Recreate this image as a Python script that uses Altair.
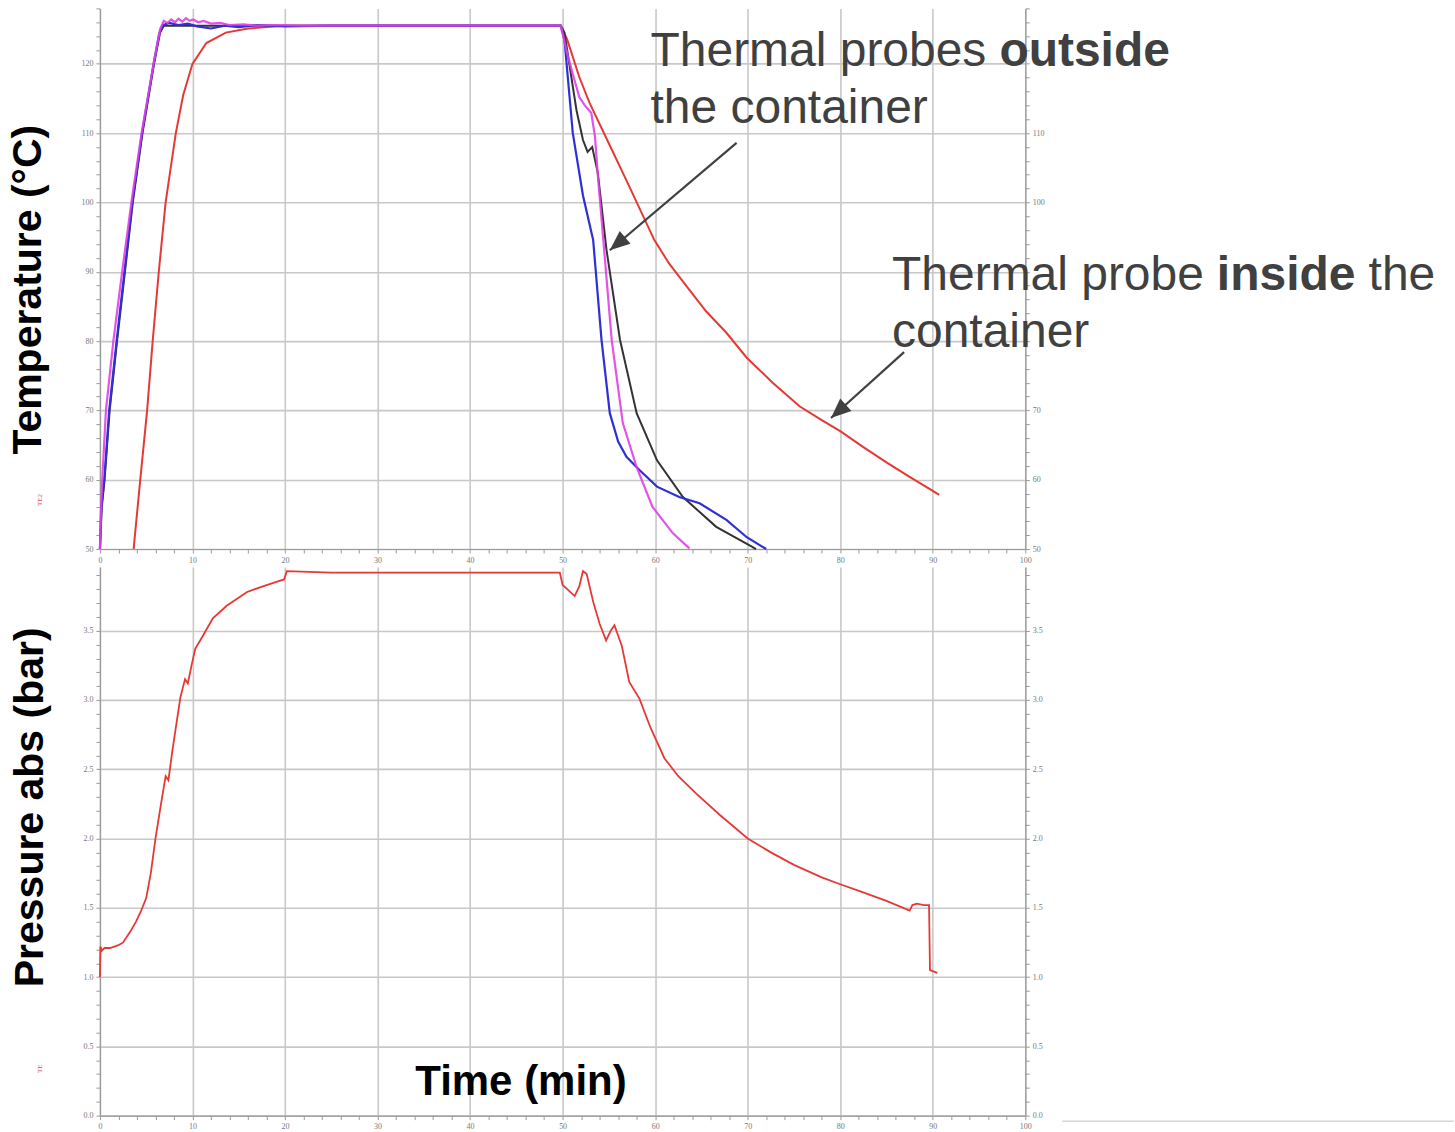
import altair as alt
import pandas as pd

# ---------------- data ----------------
x_ticks = list(range(0, 101, 2))
temp_ticks = list(range(50, 129, 2))
pres_ticks = [round(i * 0.1, 1) for i in range(0, 40)]
# right-hand temperature labels that are hidden behind the annotation text in the original
temp_right_hidden = [80, 90, 120]

red_t = [3.64, 4.36, 5.1, 5.7, 6.36, 7.1, 8.2, 9.0, 10.0, 11.5, 13.6, 16, 18, 20, 25, 30, 35, 40, 45, 49.8,
         50.5, 51.8, 52.9, 55, 57, 59.9, 61.5, 63.7, 65.5, 67.7, 69.9, 72.7, 75.6, 78, 80, 82.5, 85, 87.5, 90, 90.7]
red_T = [50, 60, 70, 80, 90, 100, 110, 115.5, 120, 123, 124.5, 125.1, 125.3, 125.5, 125.5, 125.5, 125.5, 125.5, 125.5, 125.5,
         123.5, 118.1, 114.4, 108.5, 102.9, 94.6, 91.2, 87.4, 84.3, 81.2, 77.6, 74.0, 70.6, 68.6, 67.0, 64.7, 62.5, 60.4, 58.4, 57.8]

black_t = [0, 0.2, 0.5, 1.05, 1.85, 2.7, 3.55, 4.6, 5.85, 6.5, 6.9, 8, 10, 15, 20, 30, 40, 49.8,
           50.2, 51.5, 52.2, 52.7, 53.2, 53.8, 54.75, 56.2, 58.0, 60.2, 63.0, 66.6, 70.5, 70.9]
black_T = [50, 56, 60, 70, 80, 90, 100, 110, 120, 124.5, 125.5, 125.5, 125.5, 125.5, 125.5, 125.5, 125.5, 125.5,
           124.5, 113.3, 109, 107.3, 108, 104.3, 93.1, 80.2, 69.6, 62.8, 57.5, 53.2, 50.3, 50.0]

blue_t = [0, 0.15, 0.47, 1.0, 1.8, 2.65, 3.5, 4.55, 5.8, 6.4, 6.8, 7.5, 8.5, 9.5, 10.5, 12, 13.5, 15, 17, 20, 25, 30, 35, 40, 45, 49.8,
          50.2, 51.1, 52.2, 53.3, 54.2, 55.1, 56.0, 56.9, 58.3, 60.2, 62.6, 64.8, 67.7, 69.9, 72.0]
blue_T = [50, 56, 60, 70, 80, 90, 100, 110, 120, 124.3, 125.6, 125.9, 125.6, 125.8, 125.4, 125.1, 125.5, 125.3, 125.6, 125.4, 125.5, 125.5, 125.5, 125.5, 125.5, 125.5,
          123.5, 110, 101, 94.6, 80.2, 69.6, 65.5, 63.3, 61.4, 59.0, 57.5, 56.6, 54.2, 51.7, 50.0]

mag_t = [0, 0.1, 0.25, 0.65, 1.45, 2.4, 3.4, 4.5, 5.8, 6.5, 6.9, 7.3, 7.7, 8.1, 8.5, 8.9, 9.3, 9.7, 10.1, 10.6, 11.2, 12, 13, 14, 15.5, 17, 19, 22, 30, 40, 49.8,
         50.5, 51.0, 51.8, 52.4, 53.1, 53.5, 53.8, 54.4, 55.3, 56.5, 58.0, 59.7, 61.9, 63.7]
mag_T = [50, 55, 60, 70, 80, 90, 100, 110, 120, 125.0, 126.2, 125.9, 126.4, 126.0, 126.5, 126.1, 126.6, 126.2, 126.4, 126.0, 126.2, 125.8, 125.9, 125.6, 125.7, 125.5, 125.6, 125.5, 125.5, 125.5, 125.5,
         121.5, 119.0, 115.2, 114.0, 112.9, 109.5, 104, 94.6, 80.2, 68.2, 61.8, 56.1, 52.3, 50.1]

p_t = [0, 0.05, 0.2, 0.5, 1.1, 2.0, 2.5, 3.3, 3.9, 4.4, 5.0, 5.5, 6.0, 6.6, 7.1, 7.4, 7.8, 8.2, 8.7, 9.0,
       9.2, 9.5, 9.9, 10.3, 11.1, 12.2, 13.7, 15.9, 17.6, 19.4, 19.9, 20.2, 25, 30, 35, 40, 45, 49.7, 50.0, 50.5,
       51.3, 51.8, 52.2, 52.6, 53.3, 54.0, 54.7, 55.2, 55.6, 56.4, 57.2, 58.3, 59.5, 61.0, 62.5, 64.5, 67.0, 70.0, 72.5, 75.0,
       78.0, 80.0, 82.1, 85.0, 87.5, 87.8, 88.3, 89.0, 89.6, 89.7, 90.5]
p_P = [1.0, 1.22, 1.19, 1.21, 1.21, 1.23, 1.25, 1.33, 1.40, 1.47, 1.57, 1.75, 2.0, 2.25, 2.45, 2.42, 2.62, 2.8, 3.02, 3.1,
       3.15, 3.12, 3.25, 3.37, 3.46, 3.59, 3.68, 3.78, 3.82, 3.86, 3.87, 3.93, 3.92, 3.92, 3.92, 3.92, 3.92, 3.92, 3.83, 3.8,
       3.75, 3.82, 3.93, 3.91, 3.71, 3.55, 3.43, 3.50, 3.54, 3.39, 3.13, 3.01, 2.8, 2.58, 2.45, 2.32, 2.17, 2.0, 1.9, 1.81,
       1.72, 1.67, 1.62, 1.55, 1.48, 1.52, 1.53, 1.52, 1.52, 1.05, 1.03]

# annotations (data units: minutes, degC)
ann_reg_text = ["Thermal probes", "the container", "Thermal probe", "container", "the"]
ann_reg_x = [59.5, 59.5, 85.6, 85.6, 137.1]
ann_reg_y = [119.7, 111.5, 87.4, 79.1, 87.4]
ann_bold_text = ["outside", "inside"]
ann_bold_x = [97.2, 120.7]
ann_bold_y = [119.7, 87.4]
arrow_x1 = [68.8, 86.9]
arrow_y1 = [108.6, 78.4]
arrow_x2 = [55.1, 79.0]
arrow_y2 = [93.1, 68.9]
arrow_angle = [230, 228]

time_label = ["Time (min)"]
time_label_x = [45.5]
time_label_y = [0.245]

# thin separator line at the bottom right of the slide (minutes, bar)
sep_x = [104.0]
sep_x2 = [146.3]
sep_y = [-0.04]

# ---------------- styling ----------------
W = 926
H_TOP = 541
H_BOT = 549
GRID = "#c8c8c8"
AXC = "#9a9a9a"
LBL = "#777777"
LFONT = "Liberation Serif"
RED = "#e53935"

xs = alt.Scale(domain=[0, 100], nice=False, zero=False)
ys_t = alt.Scale(domain=[50, 128], nice=False, zero=False)
ys_p = alt.Scale(domain=[0, 3.96], nice=False, zero=False)

major10 = "datum.value % 10 === 0"
majorhalf = "abs(datum.value * 2 - round(datum.value * 2)) < 0.001"
right_t_test = major10 + " && indexof([" + ",".join(str(v) for v in temp_right_hidden) + "], datum.value) < 0"


def x_axis():
    return alt.Axis(values=x_ticks, title=None, labelExpr=f"{major10} ? datum.label : ''",
                    grid=True, gridColor=GRID, gridWidth=1.6,
                    gridOpacity={"condition": {"test": major10, "value": 1}, "value": 0},
                    tickSize=4, tickColor=AXC, domainColor=AXC, domainWidth=1.2,
                    labelFont=LFONT, labelFontSize=8, labelColor=LBL, labelPadding=3,
                    labelFlush=False, labelOverlap=False)


def y_axis(values, test, orient, fmt, title=None, title_y=None, grid=True, label_test=None):
    lt = label_test or test
    kw = dict(values=values, orient=orient, labelExpr=f"({lt}) ? datum.label : ''",
              grid=grid, gridColor=GRID, gridWidth=1.6,
              gridOpacity={"condition": {"test": test, "value": 1}, "value": 0},
              tickSize=4, tickColor=AXC, domainColor=AXC, domainWidth=1.2,
              labelFont=LFONT, labelFontSize=8, labelColor=LBL, labelPadding=3,
              labelFlush=False, labelOverlap=False, format=fmt)
    if title is not None:
        kw.update(title=title, titleFont="Liberation Sans", titleFontSize=41, titleFontWeight="bold",
                  titleColor="#000000", titlePadding=31, titleY=title_y)
    else:
        kw.update(title=None)
    return alt.Axis(**kw)


def series(t, v):
    return pd.DataFrame({"t": t, "v": v})


def line_layer(df, color, width, yscale, yaxis=None, opacity=1.0):
    return alt.Chart(df).mark_line(color=color, strokeWidth=width, opacity=opacity, interpolate="linear").encode(
        x=alt.X("t:Q", scale=xs, axis=x_axis()),
        y=alt.Y("v:Q", scale=yscale, axis=yaxis),
        order=alt.Order("t:Q"),
    )


def xenc(field):
    return alt.X(field, scale=xs, axis=x_axis())


# ---------------- top panel ----------------
red_l = line_layer(series(red_t, red_T), RED, 2.0, ys_t,
                   yaxis=y_axis(temp_ticks, major10, "left", "d", "Temperature (°C)", 281))
black_l = line_layer(series(black_t, black_T), "#333333", 2.0, ys_t)
blue_l = line_layer(series(blue_t, blue_T), "#2f2fd6", 2.2, ys_t)
mag_l = line_layer(series(mag_t, mag_T), "#e040e6", 2.2, ys_t, opacity=0.9)

right_t = alt.Chart(pd.DataFrame({"v": temp_ticks})).mark_rule(strokeOpacity=0).encode(
    y=alt.Y("v:Q", scale=ys_t, axis=y_axis(temp_ticks, major10, "right", "d", grid=False, label_test=right_t_test)))

arrows = alt.Chart(pd.DataFrame({"x1": arrow_x1, "y1": arrow_y1, "x2": arrow_x2, "y2": arrow_y2})).mark_rule(
    color="#404040", strokeWidth=2.2).encode(
    x=xenc("x1:Q"), y=alt.Y("y1:Q", scale=ys_t, axis=None),
    x2="x2:Q", y2="y2:Q")

heads = alt.Chart(pd.DataFrame({"x": arrow_x2, "y": arrow_y2, "a": arrow_angle})).mark_point(
    shape="M0,0 L0.42,1 L-0.42,1 Z", filled=True, fill="#404040", size=1600, opacity=1).encode(
    x=xenc("x:Q"), y=alt.Y("y:Q", scale=ys_t, axis=None),
    angle=alt.Angle("a:Q", scale=None))

ann_reg = alt.Chart(pd.DataFrame({"x": ann_reg_x, "y": ann_reg_y, "txt": ann_reg_text})).mark_text(
    font="Liberation Sans", fontSize=48, color="#404040", align="left", baseline="alphabetic").encode(
    x=xenc("x:Q"), y=alt.Y("y:Q", scale=ys_t, axis=None), text="txt:N")

ann_bold = alt.Chart(pd.DataFrame({"x": ann_bold_x, "y": ann_bold_y, "txt": ann_bold_text})).mark_text(
    font="Liberation Sans", fontSize=48, fontWeight="bold", color="#404040", align="left", baseline="alphabetic").encode(
    x=xenc("x:Q"), y=alt.Y("y:Q", scale=ys_t, axis=None), text="txt:N")

te2 = alt.Chart(pd.DataFrame({"txt": ["TE2"]})).mark_text(
    font=LFONT, fontSize=7, color="#e05050", angle=270, align="center", baseline="middle").encode(
    x=alt.value(-60), y=alt.value(492), text="txt:N")

top = alt.layer(red_l, black_l, blue_l, mag_l, right_t, arrows, heads, ann_reg, ann_bold, te2).resolve_axis(
    y="independent").properties(width=W, height=H_TOP)

# ---------------- bottom panel ----------------
pres_l = line_layer(series(p_t, p_P), RED, 1.8, ys_p,
                    yaxis=y_axis(pres_ticks, majorhalf, "left", ".1f", "Pressure abs (bar)", 240))

right_p = alt.Chart(pd.DataFrame({"v": pres_ticks})).mark_rule(strokeOpacity=0).encode(
    y=alt.Y("v:Q", scale=ys_p, axis=y_axis(pres_ticks, majorhalf, "right", ".1f", grid=False)))

time_txt = alt.Chart(pd.DataFrame({"x": time_label_x, "y": time_label_y, "txt": time_label})).mark_text(
    font="Liberation Sans", fontSize=42, fontWeight="bold", color="#000000", align="center", baseline="middle").encode(
    x=xenc("x:Q"), y=alt.Y("y:Q", scale=ys_p, axis=None), text="txt:N")

te = alt.Chart(pd.DataFrame({"txt": ["TE"]})).mark_text(
    font=LFONT, fontSize=7, color="#e05050", angle=270, align="center", baseline="middle").encode(
    x=alt.value(-60), y=alt.value(502), text="txt:N")

sep = alt.Chart(pd.DataFrame({"x": sep_x, "x2": sep_x2, "y": sep_y})).mark_rule(
    color="#c0c0c0", strokeWidth=1).encode(
    x=xenc("x:Q"), x2="x2:Q", y=alt.Y("y:Q", scale=ys_p, axis=None))

bottom = alt.layer(pres_l, right_p, time_txt, te, sep).resolve_axis(y="independent").properties(width=W, height=H_BOT)

chart = alt.vconcat(top, bottom, spacing=3).properties(
    padding={"left": 8, "top": 4, "right": 0, "bottom": 0}, background="white"
).configure_view(stroke=None)

chart.save("out.html", embed_options={"renderer": "svg", "actions": False})
